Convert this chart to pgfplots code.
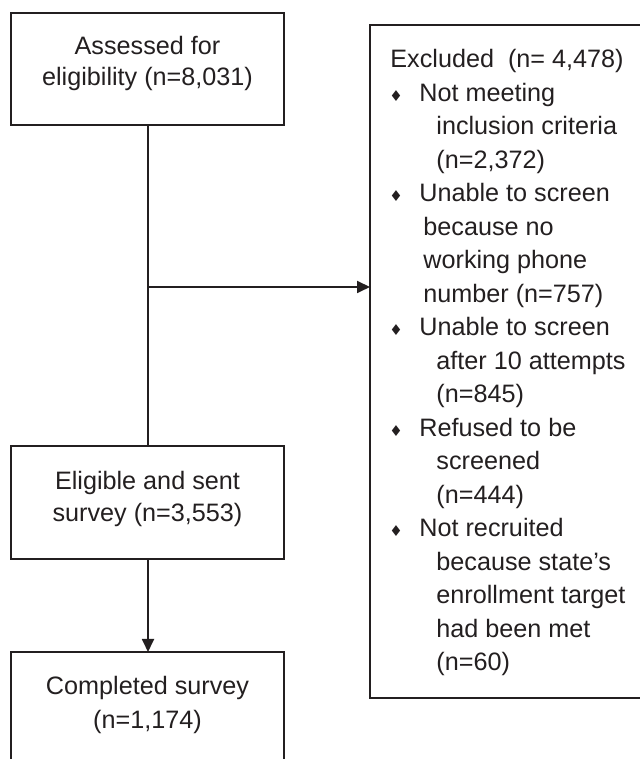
\documentclass[border=0pt]{standalone}
\usepackage{pgfplots}
\pgfplotsset{compat=1.18}
\usetikzlibrary{arrows.meta}
\usepackage{fontspec}
\setmainfont{Liberation Sans}
\newfontfamily\sym{DejaVu Sans}
\definecolor{ink}{HTML}{231F20}
\newcommand\tx{\fontsize{12.6}{15}\selectfont}
\newcommand\bul{{\sym\fontsize{7.5}{8}\selectfont ♦}}
\begin{document}
\begin{tikzpicture}
\begin{axis}[
  scale only axis, width=320pt, height=379.5pt,
  xmin=0, xmax=640, ymin=-759, ymax=0,
  hide axis, clip=true,
  ln/.style={ink, no markers, line width=0.9pt, line join=miter},
  nodes={inner sep=0pt, font=\tx, text=ink},
]
\path (axis cs:0,0) rectangle (axis cs:640,-759);
% boxes
\addplot[ln] coordinates {(11,-13) (284,-13) (284,-125) (11,-125) (11,-13) (284,-13)};
\addplot[ln] coordinates {(11,-446) (284,-446) (284,-559) (11,-559) (11,-446) (284,-446)};
\addplot[ln] coordinates {(11,-765) (11,-652) (284,-652) (284,-765)};
\addplot[ln] coordinates {(645,-25) (370,-25) (370,-698) (645,-698)};
% connectors
\addplot[ln] coordinates {(148,-125) (148,-446)};
\addplot[ln, -{Triangle[length=6.5pt,width=6pt]}] coordinates {(148,-287) (370,-287)};
\addplot[ln, -{Triangle[length=6.5pt,width=6pt]}] coordinates {(148,-559) (148,-652)};
% left texts
\node[anchor=base] at (axis cs:147.5,-55) {Assessed for};
\node[anchor=base] at (axis cs:147.5,-86) {eligibility (n=8,031)};
\node[anchor=base] at (axis cs:147.5,-490) {Eligible and sent};
\node[anchor=base] at (axis cs:147.5,-522) {survey (n=3,553)};
\node[anchor=base] at (axis cs:147.5,-695) {Completed survey};
\node[anchor=base] at (axis cs:147.5,-728) {(n=1,174)};
% right box
\node[anchor=base west] at (axis cs:390,-68) {Excluded \ (n= 4,478)};
\node[anchor=base] at (axis cs:396,-101.5) {\bul};
\node[anchor=base west] at (axis cs:419,-101.5) {Not meeting};
\node[anchor=base west] at (axis cs:436,-135) {inclusion criteria};
\node[anchor=base west] at (axis cs:436,-168.5) {(n=2,372)};
\node[anchor=base] at (axis cs:396,-202) {\bul};
\node[anchor=base west] at (axis cs:419,-202) {Unable to screen};
\node[anchor=base west] at (axis cs:423,-235.5) {because no};
\node[anchor=base west] at (axis cs:423,-269) {working phone};
\node[anchor=base west] at (axis cs:423,-302.5) {number (n=757)};
\node[anchor=base] at (axis cs:396,-336) {\bul};
\node[anchor=base west] at (axis cs:419,-336) {Unable to screen};
\node[anchor=base west] at (axis cs:436,-369.5) {after 10 attempts};
\node[anchor=base west] at (axis cs:436,-403) {(n=845)};
\node[anchor=base] at (axis cs:396,-436.5) {\bul};
\node[anchor=base west] at (axis cs:419,-436.5) {Refused to be};
\node[anchor=base west] at (axis cs:436,-470) {screened};
\node[anchor=base west] at (axis cs:436,-503.5) {(n=444)};
\node[anchor=base] at (axis cs:396,-537) {\bul};
\node[anchor=base west] at (axis cs:419,-537) {Not recruited};
\node[anchor=base west] at (axis cs:436,-570.5) {because state’s};
\node[anchor=base west] at (axis cs:436,-604) {enrollment target};
\node[anchor=base west] at (axis cs:436,-637.5) {had been met};
\node[anchor=base west] at (axis cs:436,-671) {(n=60)};
\end{axis}
\end{tikzpicture}
\end{document}
